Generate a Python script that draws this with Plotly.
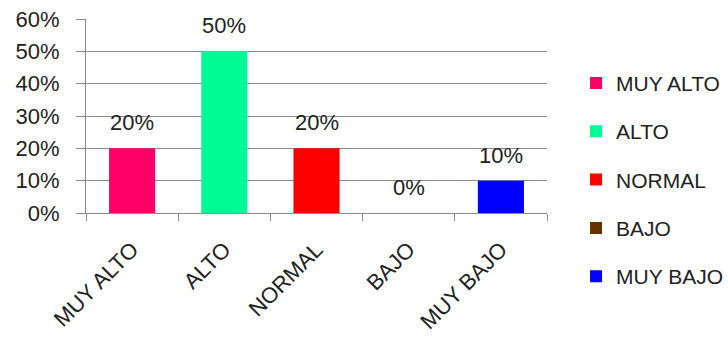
import plotly.graph_objects as go

categories = ["MUY ALTO", "ALTO", "NORMAL", "BAJO", "MUY BAJO"]
values = [0.20, 0.50, 0.20, 0.0, 0.10]
labels = ["20%", "50%", "20%", "0%", "10%"]
colors = ["#FF0066", "#00FA96", "#FF0000", "#663300", "#0000FF"]
y_ticks = [0, 0.1, 0.2, 0.3, 0.4, 0.5, 0.6]
y_ticktext = ["0%", "10%", "20%", "30%", "40%", "50%", "60%"]

FONT = "Liberation Sans"

fig = go.Figure()
for i, cat in enumerate(categories):
    fig.add_trace(go.Bar(
        x=[cat], y=[values[i]], name=cat, width=0.5,
        marker=dict(color=colors[i], line=dict(width=0)),
        legendgroup=cat,
    ))
    fig.add_annotation(x=cat, y=values[i], text=labels[i], showarrow=False,
                       yanchor="bottom", yshift=11,
                       font=dict(family=FONT, size=22, color="#222"))

fig.update_layout(
    width=728, height=338,
    margin=dict(l=86, r=181, t=19, b=125, autoexpand=False),
    paper_bgcolor="white", plot_bgcolor="white",
    barmode="overlay",
    font=dict(family=FONT, size=20, color="#222"),
    legend=dict(x=1.063, y=0.774, xanchor="left", yanchor="top",
                font=dict(family=FONT, size=21, color="#222"),
                tracegroupgap=18, itemwidth=30, maxheight=330),
    xaxis=dict(categoryorder="array", categoryarray=categories,
               tickangle=-45, tickson="boundaries", ticks="outside", ticklen=7,
               tickcolor="#8c8c8c", showline=True, linecolor="#8c8c8c",
               showgrid=False, ticklabelstandoff=14, automargin=False,
               tickfont=dict(family=FONT, size=22, color="#222")),
    yaxis=dict(range=[0, 0.6], tickvals=y_ticks, ticktext=y_ticktext,
               ticks="outside", ticklen=9, tickcolor="#8c8c8c",
               showline=True, linecolor="#8c8c8c", showgrid=True,
               gridcolor="#8c8c8c", gridwidth=1, zeroline=False,
               ticklabelstandoff=12, automargin=False,
               tickfont=dict(family=FONT, size=22, color="#222")),
)

fig.write_html("out.html")
